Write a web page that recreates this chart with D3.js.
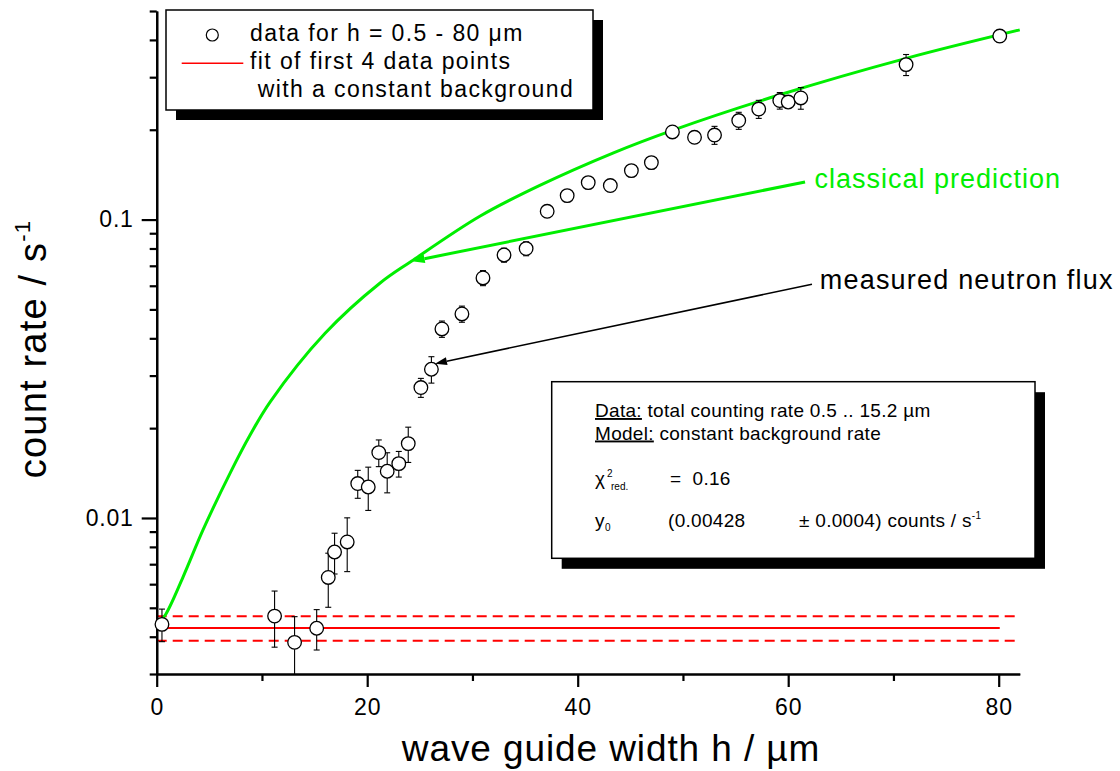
<!DOCTYPE html>
<html><head><meta charset="utf-8">
<script src="https://cdn.jsdelivr.net/npm/d3@7"></script>
<style>
body{margin:0;background:#fff;}
svg{display:block;font-family:"Liberation Sans",Arial,Helvetica,sans-serif;}
</style></head><body>
<svg id="chart" width="1120" height="771"></svg>
<script>
// ---- data ----
const hValues = [0.5, 11.2, 13.1, 15.2, 16.3, 16.9, 18.1, 19.1, 20.1, 21.1, 21.9, 23.0, 23.9,
  25.1, 26.1, 27.1, 29.0, 31.0, 33.0, 35.1, 37.1, 39.0, 41.0, 43.1, 45.1, 47.0, 49.0, 51.1,
  53.0, 55.3, 57.2, 59.2, 60.0, 61.2, 71.2, 80.1];
const rateValues = [0.00440, 0.00469, 0.00383, 0.00427, 0.00632, 0.00769, 0.00831, 0.01304,
  0.01270, 0.01656, 0.01434, 0.01521, 0.01775, 0.02736, 0.03151, 0.04300, 0.04828, 0.06375,
  0.07609, 0.07994, 0.1066, 0.1203, 0.1330, 0.1300, 0.1459, 0.1552, 0.1966, 0.1887, 0.1920,
  0.2147, 0.2346, 0.2505, 0.2477, 0.2556, 0.3306, 0.4121];
const rateErrors = [0.00055, 0.0010, 0.00084, 0.00066, 0.0013, 0.0012, 0.0017, 0.0014, 0.0021,
  0.0017, 0.0022, 0.0015, 0.0024, 0.0020, 0.0032, 0.0027, 0.0030, 0.0037, 0.0041, 0.0043,
  0.004, 0.004, 0.004, 0.004, 0.005, 0.0072, 0.006, 0.006, 0.0133, 0.0141, 0.0163, 0.016,
  0.010, 0.0213, 0.0268, 0.0197];
const classicalH =    [0, 0.8, 2.5, 4.4, 7.0, 8.9, 10.8, 16.0, 21.2, 24.2, 30.7, 36.4, 43.4, 49.0, 59.2, 71.2, 82];
const classicalRate = [0.00437, 0.00472, 0.00634, 0.00912, 0.01419, 0.01903, 0.02455, 0.04157,
  0.06117, 0.0725, 0.1026, 0.1302, 0.1674, 0.1991, 0.2619, 0.3470, 0.4323];
const fitY0 = 0.00428;
const fitErr = 0.0004;
const fitRange = [0.5, 80.1];
const xDomain = [0, 82];
const yDomain = [0.003, 0.5];
const xMajorTicks = [0, 20, 40, 60, 80];
const xMinorTicks = [10, 30, 50, 70];
const yMajorTicks = [0.01, 0.1];
const yTickLabels = ["0.01", "0.1"];
const yMinorTicks = [0.003, 0.004, 0.005, 0.006, 0.007, 0.008, 0.009,
  0.02, 0.03, 0.04, 0.05, 0.06, 0.07, 0.08, 0.09, 0.2, 0.3, 0.4, 0.5];
const legendLabels = ["data for h = 0.5 - 80 \u03bcm", "fit of first 4 data points", " with a constant background"];
const xTitle = "wave guide width h / \u00b5m";
const yTitle = "count rate / s";
// annotation anchors in data units
const classicalNote = {text: "classical prediction", from: [61.6, 0.1337], to: [24.23, 0.0725], label: [62.5, 0.1273]};
const measuredNote = {text: "measured neutron flux", from: [62.26, 0.0607], to: [26.44, 0.0329], label: [63.0, 0.0584]};

// ---- drawing ----
const GREEN = "#00ee00";
const svg = d3.select("#chart");
const x = d3.scaleLinear().domain(xDomain).range([156.7, 156.7 + 82 * 10.525]);
const y = d3.scaleLog().domain(yDomain).range([674, 11]);

// red fit lines
const fitG = svg.append("g");
[fitY0 + fitErr, fitY0 - fitErr].forEach(v => {
  fitG.append("line").attr("x1", x(xDomain[0])).attr("x2", x(xDomain[1]))
    .attr("y1", y(v)).attr("y2", y(v))
    .attr("stroke", "#ff0000").attr("stroke-width", 2).attr("stroke-dasharray", "10,6");
});
fitG.append("line").attr("x1", x(fitRange[0])).attr("x2", x(fitRange[1]))
  .attr("y1", y(fitY0)).attr("y2", y(fitY0))
  .attr("stroke", "#ff0000").attr("stroke-width", 2);

// classical curve
const line = d3.line().x(d => x(d[0])).y(d => y(d[1])).curve(d3.curveCatmullRom.alpha(0.5));
svg.append("path").datum(classicalH.map((h, i) => [h, classicalRate[i]]))
  .attr("d", line).attr("fill", "none").attr("stroke", GREEN).attr("stroke-width", 3);

// axes
function styleAxis(g) {
  g.select(".domain").attr("stroke-width", 2.2);
  g.selectAll(".tick line").attr("stroke-width", 2.2);
  g.selectAll(".tick text").attr("font-size", 23).attr("font-family", "Liberation Sans, Arial, sans-serif")
    .attr("fill", "#000").attr("letter-spacing", 0.8);
}
svg.append("g").attr("transform", "translate(0,674)")
  .call(d3.axisBottom(x).tickValues(xMinorTicks).tickSize(7).tickSizeOuter(0).tickFormat(""))
  .call(styleAxis);
svg.append("g").attr("transform", "translate(0,674)")
  .call(d3.axisBottom(x).tickValues(xMajorTicks).tickSize(13).tickSizeOuter(0).tickPadding(12).tickFormat(d3.format("d")))
  .call(styleAxis);
svg.append("g").attr("transform", "translate(156.7,0)")
  .call(d3.axisLeft(y).tickValues(yMinorTicks).tickSize(7).tickSizeOuter(0).tickFormat(""))
  .call(styleAxis);
svg.append("g").attr("transform", "translate(156.7,0)")
  .call(d3.axisLeft(y).tickValues(yMajorTicks).tickSize(15).tickSizeOuter(0).tickPadding(8)
    .tickFormat((d, i) => yTickLabels[i]))
  .call(styleAxis);

// axis titles
svg.append("text").attr("x", 611).attr("y", 761).attr("text-anchor", "middle")
  .attr("font-size", 37).attr("letter-spacing", 0.9).text(xTitle);
const yt = svg.append("text").attr("transform", "translate(46,349) rotate(-90)")
  .attr("text-anchor", "middle").attr("font-size", 38).attr("letter-spacing", 1.2);
yt.append("tspan").text(yTitle);
yt.append("tspan").attr("font-size", 22).attr("dy", -16).text("-1");

// error bars and data points
const pts = hValues.map((h, i) => ({h, v: rateValues[i], e: rateErrors[i]}));
const eg = svg.append("g").attr("stroke", "#000").attr("stroke-width", 1.1);
pts.forEach(p => {
  const lo = Math.max(p.v - p.e, yDomain[0]);
  const hi = p.v + p.e;
  const cx = x(p.h);
  eg.append("line").attr("x1", cx).attr("x2", cx).attr("y1", y(lo)).attr("y2", y(hi));
  eg.append("line").attr("x1", cx - 3).attr("x2", cx + 3).attr("y1", y(hi)).attr("y2", y(hi));
  if (p.v - p.e > yDomain[0])
    eg.append("line").attr("x1", cx - 3).attr("x2", cx + 3).attr("y1", y(lo)).attr("y2", y(lo));
});
svg.append("g").selectAll("circle").data(pts).join("circle")
  .attr("cx", d => x(d.h)).attr("cy", d => y(d.v)).attr("r", 6.8)
  .attr("fill", "#fff").attr("stroke", "#000").attr("stroke-width", 1.3);

// arrows
function arrow(note, color, width, headLen, headW, fontSize, ls) {
  const x1 = x(note.from[0]), y1 = y(note.from[1]);
  const x2 = x(note.to[0]), y2 = y(note.to[1]);
  const ang = Math.atan2(y2 - y1, x2 - x1);
  const bx = x2 - headLen * Math.cos(ang), by = y2 - headLen * Math.sin(ang);
  svg.append("line").attr("x1", x1).attr("y1", y1).attr("x2", bx).attr("y2", by)
    .attr("stroke", color).attr("stroke-width", width);
  const nx = -Math.sin(ang), ny = Math.cos(ang);
  svg.append("path").attr("d",
    `M${x2},${y2}L${bx + nx * headW / 2},${by + ny * headW / 2}L${bx - nx * headW / 2},${by - ny * headW / 2}Z`)
    .attr("fill", color);
  svg.append("text").attr("x", x(note.label[0])).attr("y", y(note.label[1]))
    .attr("font-size", fontSize).attr("letter-spacing", ls).attr("fill", color).text(note.text);
}
arrow(classicalNote, GREEN, 3, 13, 9, 27, 1.0);
arrow(measuredNote, "#000", 1.6, 12, 8, 27, 1.2);

// legend box
const L = {x: 166, y: 10, w: 427, h: 100};
svg.append("rect").attr("x", L.x + 10).attr("y", L.y + 10).attr("width", L.w).attr("height", L.h).attr("fill", "#000");
svg.append("rect").attr("x", L.x).attr("y", L.y).attr("width", L.w).attr("height", L.h)
  .attr("fill", "#fff").attr("stroke", "#000").attr("stroke-width", 1.5);
svg.append("circle").attr("cx", 212.3).attr("cy", 35).attr("r", 6)
  .attr("fill", "#fff").attr("stroke", "#000").attr("stroke-width", 1.2);
svg.append("line").attr("x1", 181.7).attr("x2", 243.3).attr("y1", 63.3).attr("y2", 63.3)
  .attr("stroke", "#ff0000").attr("stroke-width", 1.5);
[[250, 41], [250, 69], [250, 97]].forEach((pos, i) => {
  svg.append("text").attr("x", pos[0]).attr("y", pos[1]).attr("font-size", 23)
    .attr("letter-spacing", 1.4).style("white-space", "pre").text(legendLabels[i]);
});

// statistics box
const S = {x: 551.7, y: 381.7, w: 483.3, h: 176.6};
svg.append("rect").attr("x", S.x + 10).attr("y", S.y + 10.5).attr("width", S.w).attr("height", S.h).attr("fill", "#000");
svg.append("rect").attr("x", S.x).attr("y", S.y).attr("width", S.w).attr("height", S.h)
  .attr("fill", "#fff").attr("stroke", "#000").attr("stroke-width", 1.5);
const fs = 19, ls = 0.3;
let t = svg.append("text").attr("x", 595).attr("y", 417).attr("font-size", fs).attr("letter-spacing", ls);
t.append("tspan").attr("text-decoration", "underline").text("Data:");
t.append("tspan").text(" total counting rate 0.5 .. 15.2 \u00b5m");
t = svg.append("text").attr("x", 595).attr("y", 439.5).attr("font-size", fs).attr("letter-spacing", ls);
t.append("tspan").attr("text-decoration", "underline").text("Model:");
t.append("tspan").text(" constant background rate");
svg.append("text").attr("x", 595).attr("y", 485).attr("font-size", fs).text("\u03c7");
svg.append("text").attr("x", 607).attr("y", 477).attr("font-size", 10).text("2");
svg.append("text").attr("x", 611).attr("y", 490).attr("font-size", 10).text("red.");
svg.append("text").attr("x", 670).attr("y", 485).attr("font-size", fs).attr("letter-spacing", ls)
  .style("white-space", "pre").text("=  0.16");
svg.append("text").attr("x", 595).attr("y", 526.7).attr("font-size", fs).text("y");
svg.append("text").attr("x", 605).attr("y", 531).attr("font-size", 10).text("0");
svg.append("text").attr("x", 668).attr("y", 526.7).attr("font-size", fs).attr("letter-spacing", ls)
  .text("(" + fitY0.toFixed(5));
t = svg.append("text").attr("x", 799).attr("y", 526.7).attr("font-size", fs).attr("letter-spacing", ls);
t.append("tspan").text("\u00b1 " + fitErr.toFixed(4) + ") counts / s");
t.append("tspan").attr("font-size", 10).attr("dy", -8).text("-1");
</script>
</body></html>
